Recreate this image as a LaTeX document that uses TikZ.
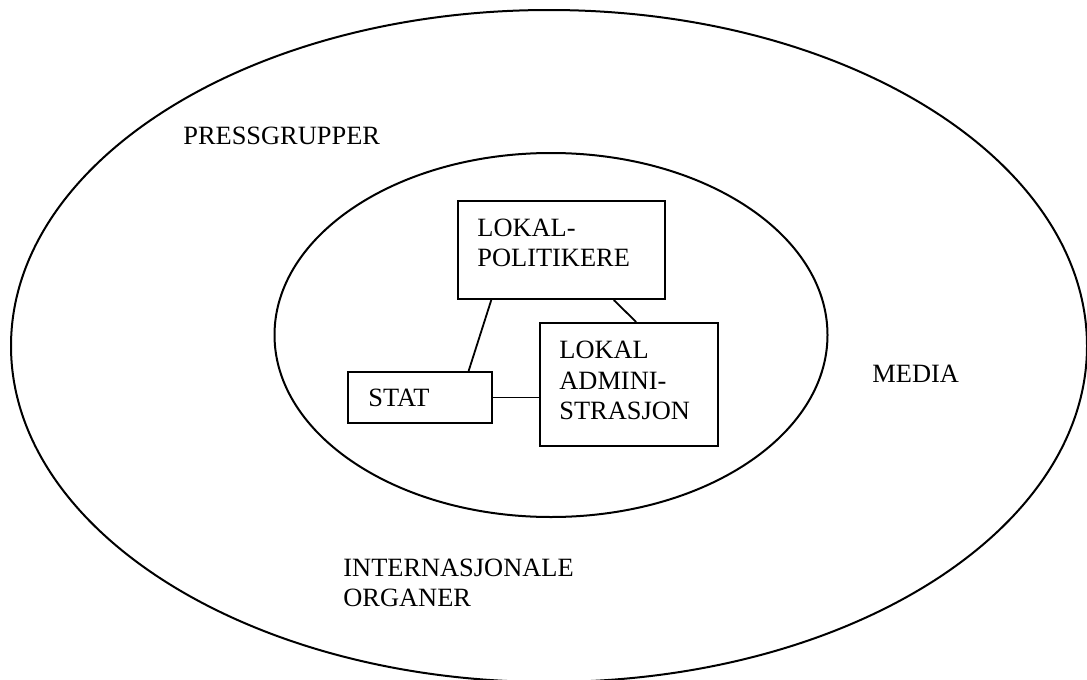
\documentclass[tikz,border=0pt]{standalone}
\usepackage{fontspec}
\setmainfont{Liberation Serif}
\usetikzlibrary{calc}
\begin{document}
\begin{tikzpicture}[x=0.5pt,y=-0.5pt,
  ring/.style={draw=black,line width=1pt},
  box/.style={draw=black,line width=1pt,rectangle,inner sep=0pt,anchor=north west},
  lbl/.style={inner sep=0pt,anchor=base west,font=\fontsize{13.2pt}{15pt}\selectfont},
  link/.style={draw=black,line width=0.9pt}]
\useasboundingbox (0,0) rectangle (1087,680);

% outer and inner circles of influence
\draw[ring] (549,346) ellipse [x radius=538, y radius=336];
\draw[ring] (551,335) ellipse [x radius=276.5, y radius=182];

% outer ring labels
\node[lbl] (press) at (183,144) {PRESSGRUPPER};
\node[lbl] (media) at (872,382) {MEDIA};
\node[lbl] (intl1) at (343,576) {INTERNASJONALE};
\node[lbl] (intl2) at (343,606) {ORGANER};

% core actors
\node[box,minimum width=103.5pt,minimum height=49pt] (pol) at (457,200) {};
\node[box,minimum width=89pt,minimum height=61.5pt] (adm) at (539,322) {};
\node[box,minimum width=72pt,minimum height=25.5pt] (stat) at (347,371) {};

\node[lbl] (polA) at (477,236) {LOKAL-};
\node[lbl] (polB) at (477,266) {POLITIKERE};
\node[lbl] (admA) at (559,358) {LOKAL};
\node[lbl] (admB) at (559,389) {ADMINI-};
\node[lbl] (admC) at (559,419) {STRASJON};
\node[lbl] (statA) at (368,406) {STAT};

% connections between the actors
\coordinate (p1) at ($(pol.south west)!0.164!(pol.south east)$);
\coordinate (s1) at ($(stat.north west)!0.833!(stat.north east)$);
\coordinate (p2) at ($(pol.south west)!0.75!(pol.south east)$);
\coordinate (a1) at ($(adm.north west)!0.54!(adm.north east)$);
\coordinate (s2) at (stat.east);
\coordinate (a2) at (adm.west |- s2);
\draw[link] (p1) -- (s1);
\draw[link] (p2) -- (a1);
\draw[link] (s2) -- (a2);
\end{tikzpicture}
\end{document}
